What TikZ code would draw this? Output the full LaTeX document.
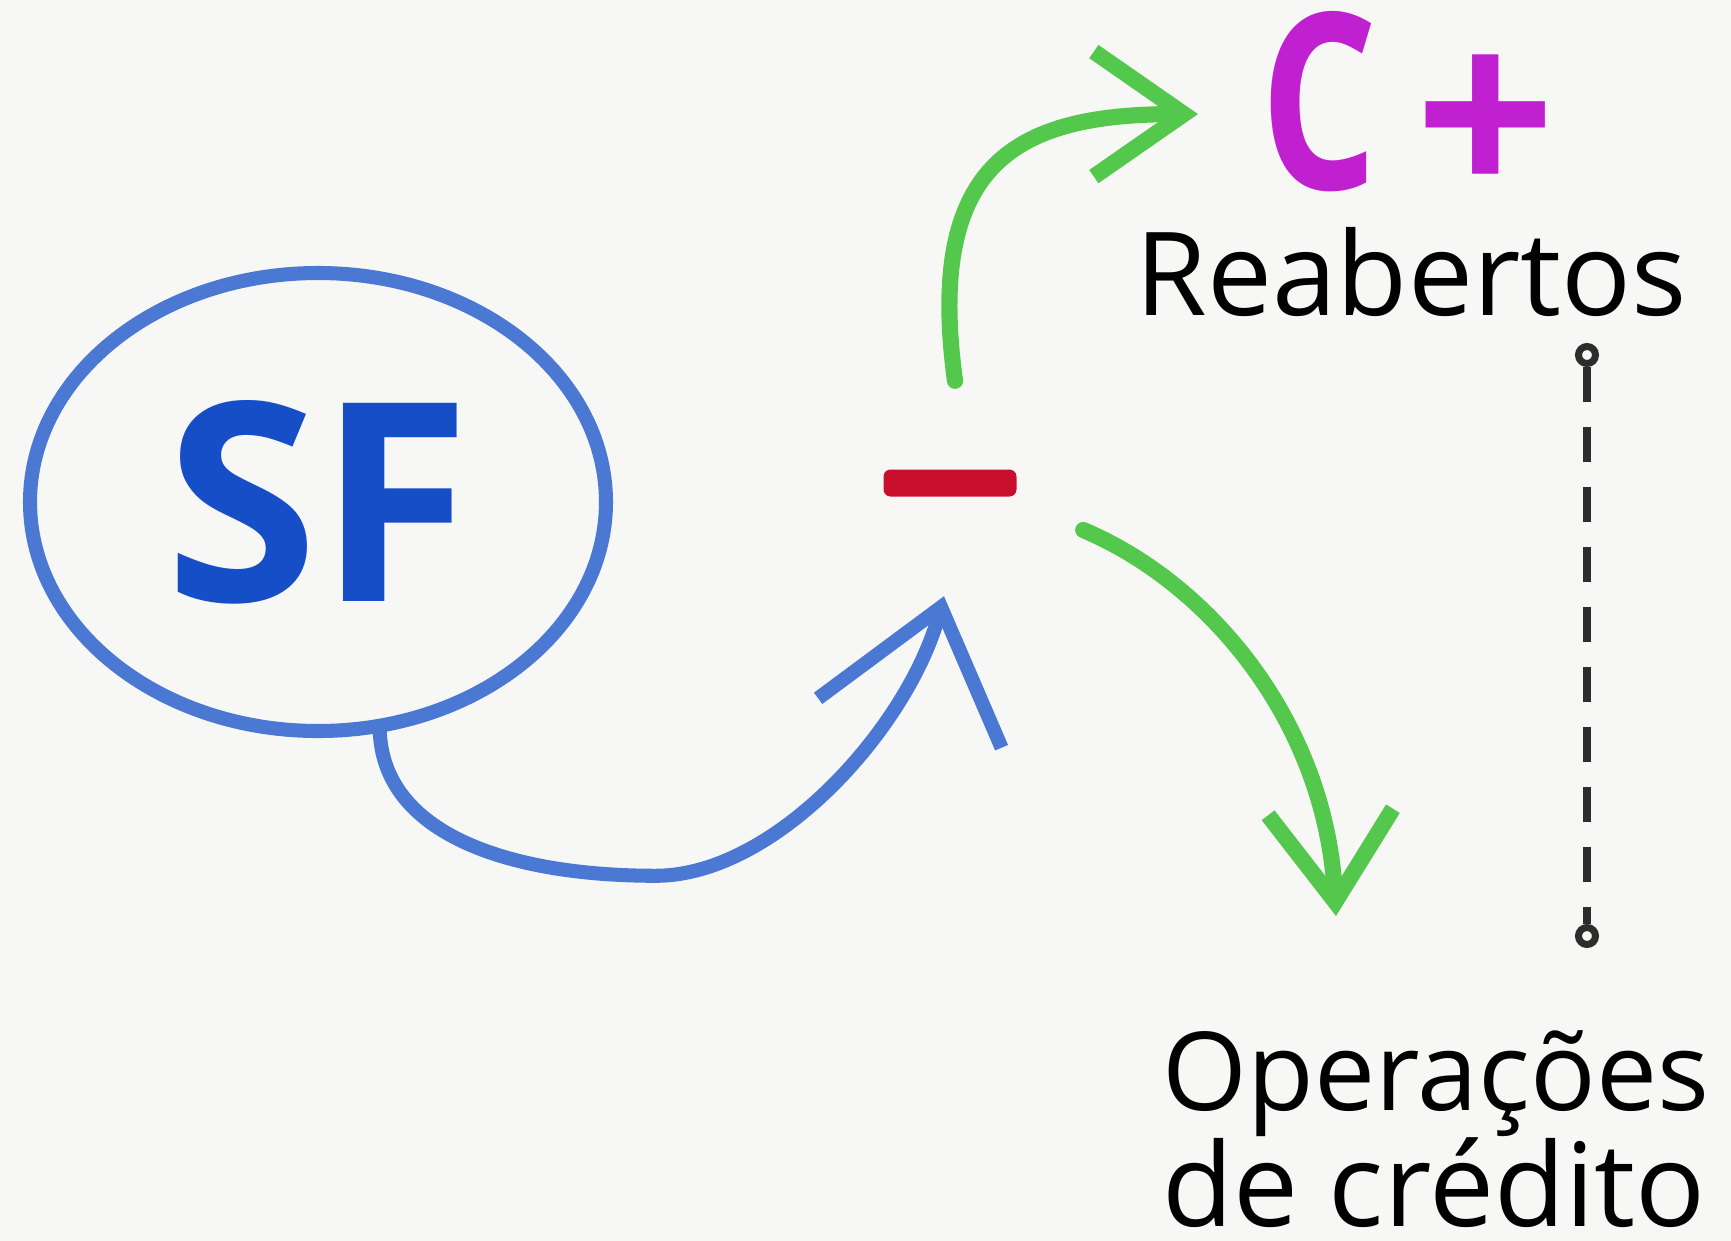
\documentclass[tikz,border=0pt]{standalone}
\usepackage{fontspec}
\setmainfont{Open Sans}
\usetikzlibrary{arrows.meta,shapes.geometric}
\definecolor{paper}{RGB}{247,247,246}
\definecolor{ringblue}{RGB}{74,120,210}
\definecolor{sfblue}{RGB}{22,78,200}
\definecolor{minusred}{RGB}{200,16,46}
\definecolor{arrowgreen}{RGB}{84,200,76}
\definecolor{cmagenta}{RGB}{192,32,208}
\definecolor{inkgray}{RGB}{45,45,45}
\tikzstyle{hand} = [font=\fontsize{33}{33}\selectfont, text=black, inner sep=0pt]

\begin{document}
\begin{tikzpicture}
    \tikzstyle{sfring} = [ellipse, draw=ringblue, line width=4pt, minimum width=5.76cm, minimum height=4.58cm, inner sep=0pt, text=sfblue, font=\fontsize{79}{79}\selectfont\bfseries]
    \tikzstyle{minusbar} = [rectangle, fill=minusred, rounded corners=2pt, minimum width=1.33cm, minimum height=0.27cm, inner sep=0pt]
    \tikzstyle{cplus} = [text=cmagenta, font=\fontsize{70}{70}\selectfont\bfseries, inner sep=0pt]
    \tikzstyle{bluearrow} = [draw=ringblue, line width=4pt, line cap=round, -{Straight Barb[length=1.2cm,width=1.9cm]}]
    \tikzstyle{greenarrow} = [draw=arrowgreen, line width=4.6pt, line cap=round, -{Straight Barb[length=0.9cm,width=1.25cm]}]
    \tikzstyle{endring} = [circle, draw=inkgray, fill=paper, line width=2pt, minimum size=0.17cm, inner sep=0pt]
    \tikzstyle{dashline} = [draw=inkgray, line width=2.4pt, dash pattern=on 0.35cm off 0.25cm]

    \fill[paper] (0,0) rectangle (17.31,-12.41);
    \useasboundingbox (0,0) rectangle (17.31,-12.41);

    % nodes
    \node[sfring] (sf) at (3.18,-5.02) {SF};
    \node[minusbar] (minus) at (9.50,-4.83) {};
    \node[cplus, anchor=base west] (cp) at (12.60,-1.89) {\scalebox{0.75}[1]{C}\hspace{0.15em}\raisebox{-0.05em}{+}};
    \node[hand, anchor=base west] (reab) at (11.35,-3.15) {Reabertos};
    \node[hand, anchor=north west, align=left] (oper) at (11.62,-10.30) {{\fontsize{31}{33}\selectfont Operações}\\de crédito};
    \node[endring] (rtop) at (15.87,-3.55) {};
    \node[endring] (rbot) at (15.87,-9.36) {};

    % arrows
    \draw[bluearrow] (sf.285) .. controls +(0.05,-1.0) and +(-1.5,0) .. ++(2.76,-1.43)
        .. controls +(1.2,0) and +(-0.35,-1.3) .. ([xshift=-0.06cm,yshift=-0.99cm]minus.south);
    \draw[greenarrow] ([xshift=0.05cm,yshift=0.88cm]minus.north) .. controls +(-0.3,2.2) and +(-1.8,0) .. ([xshift=-0.62cm,yshift=-0.08cm]cp.west);
    \draw[greenarrow] ([xshift=0.66cm,yshift=-0.47cm]minus.east) .. controls +(1.3,-0.55) and +(-0.1,1.9) .. ([xshift=1.74cm,yshift=1.14cm]oper.north west);

    % range
    \draw[dashline] (rtop) -- (rbot);
\end{tikzpicture}
\end{document}
